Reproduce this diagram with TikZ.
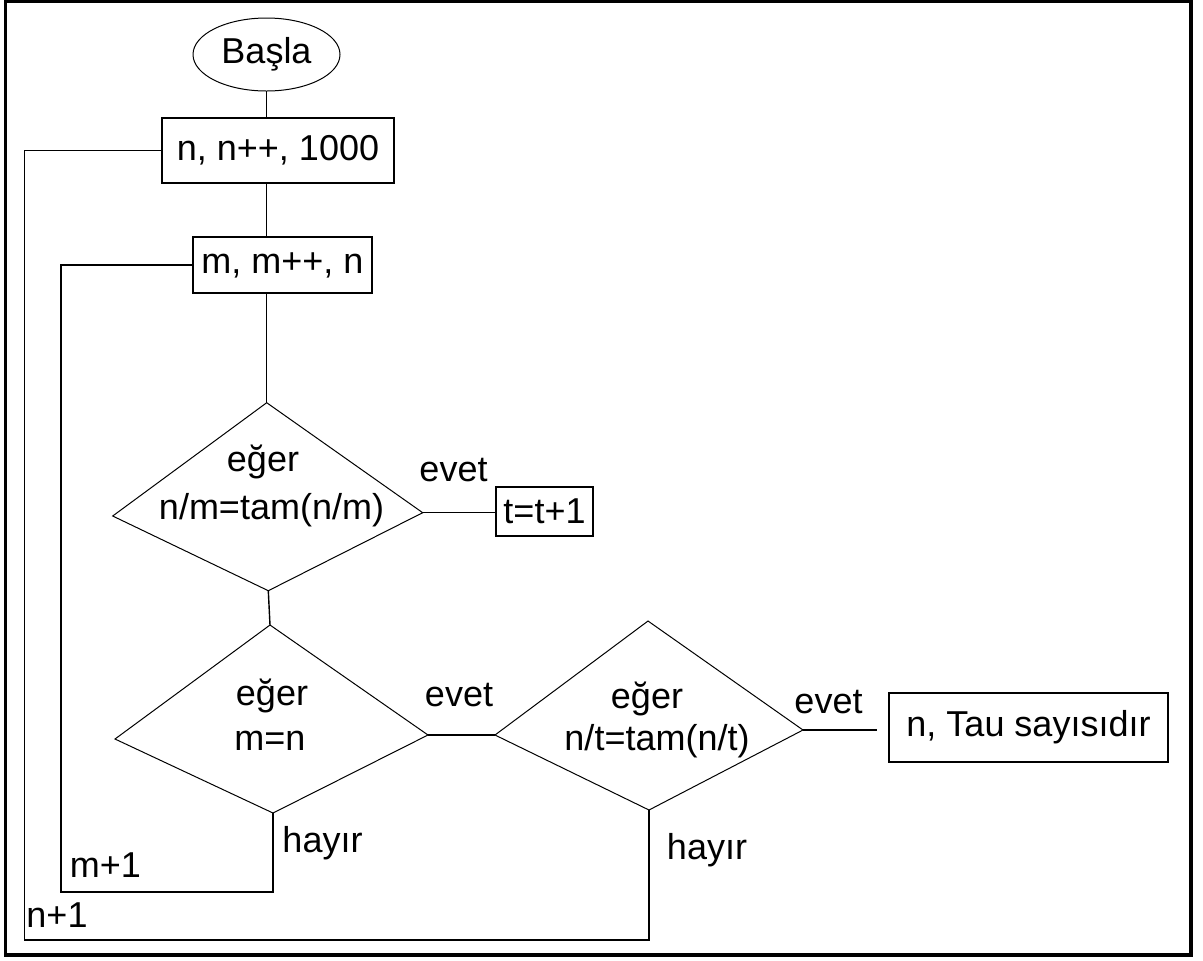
\documentclass[tikz,border=0pt]{standalone}
\usepackage{fontspec}
\setmainfont{Liberation Sans}
\usetikzlibrary{shapes.geometric,calc}

\begin{document}
\begin{tikzpicture}[x=0.5pt,y=-0.5pt,
  every node/.style={font=\fontsize{18}{21}\selectfont, inner sep=0pt, outer sep=0pt},
  procbox/.style={draw, rectangle, line width=0.7pt},
  decision/.style={draw, line width=0.5pt, line join=miter},
  terminal/.style={draw, ellipse, line width=0.5pt},
  link/.style={line width=0.7pt},
  lbl/.style={anchor=base}]

\useasboundingbox (0,0) rectangle (1203,960);
% outer frame
\draw[line width=1.65pt] (5.5,1.7) rectangle (1191,955);

% blocks
\node[terminal, minimum width=73.5pt, minimum height=36.5pt] (start) at (266.5,54.5) {Başla};
\node[procbox, minimum width=116pt, minimum height=32.5pt] (init) at (278,150.5) {n, n++, 1000};
\node[procbox, minimum width=89.5pt, minimum height=28pt] (inner) at (282.5,265) {m, m++, n};
\node[procbox, minimum width=48.5pt, minimum height=24.5pt] (inc) at (544.5,511.5) {t=t+1};
\node[procbox, minimum width=139.5pt, minimum height=34.5pt] (tau) at (1028.5,727.5) {n, Tau sayısıdır};

% decision kites: top, left, right, bottom corners
\coordinate (d1t) at (266.7,402.7);
\coordinate (d1l) at (112.7,516);
\coordinate (d1r) at (422.7,512.7);
\coordinate (d1b) at (268.3,590.7);
\coordinate (d2t) at (270,625);
\coordinate (d2l) at (115,739);
\coordinate (d2r) at (428,735);
\coordinate (d2b) at (273,813);
\coordinate (d3t) at (648,621);
\coordinate (d3l) at (495,735);
\coordinate (d3r) at (803,730);
\coordinate (d3b) at (649,810);
\draw[decision] (d1t) -- (d1r) -- (d1b) -- (d1l) -- cycle;
\draw[decision] (d2t) -- (d2r) -- (d2b) -- (d2l) -- cycle;
\draw[decision] (d3t) -- (d3r) -- (d3b) -- (d3l) -- cycle;

% decision texts
\node[lbl] (d1a) at (263,471) {eğer};
\node[lbl] (d1c) at (271.5,519) {n/m=tam(n/m)};
\node[lbl] (d2a) at (272,705) {eğer};
\node[lbl] (d2c) at (270,750) {m=n};
\node[lbl] (d3a) at (647,708) {eğer};
\node[lbl] (d3c) at (657,750) {n/t=tam(n/t)};

% branch labels
\node[lbl] (y1) at (453.5,481.7) {evet};
\node[lbl] (y2) at (459,706) {evet};
\node[lbl] (y3) at (828.5,713) {evet};
\node[lbl] (no2) at (322.5,852) {hayır};
\node[lbl] (no3) at (707,859) {hayır};
\node[lbl] (mlab) at (105.5,877) {m+1};
\node[lbl] (nlab) at (57,927) {n+1};

% corners of the loop returns
\coordinate (mback) at (61,892);
\coordinate (nback) at (24.3,940);

% connectors
\draw[link] (start.south) -- (start.south |- init.north);
\draw[link] (init.south -| start) -- (inner.north -| start);
\draw[link] (inner.south -| d1t) -- (d1t);
\draw[link] (d1r) -- (d1r -| inc.west);
\draw[link] (d1b) -- (d2t);
\draw[link] (d2r) -- (d3l);
\draw[link, shorten >=6pt] (d3r) -- (d3r -| tau.west);
\draw[link] (d2b) |- (mback) |- (inner.west);
\draw[link] (d3b) |- (nback) |- (init.west);
\end{tikzpicture}
\end{document}
